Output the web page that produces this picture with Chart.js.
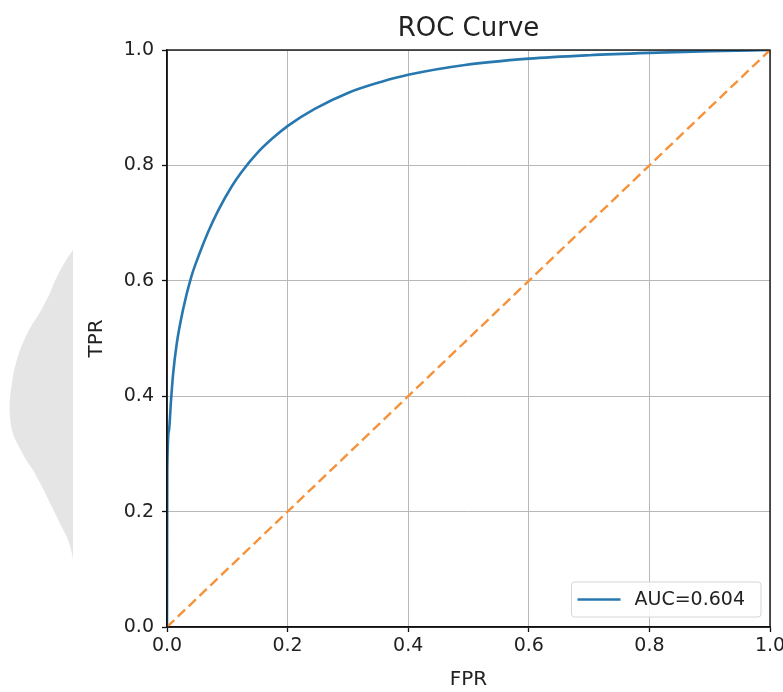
<!DOCTYPE html>
<html>
<head>
<meta charset="utf-8">
<script src="https://cdn.jsdelivr.net/npm/chart.js@4/dist/chart.umd.min.js"></script>
<style>
  html, body { margin: 0; padding: 0; background: #ffffff; }
  #wrap { position: relative; width: 783px; height: 692px; }
  #deco { position: absolute; left: 0; top: 0; }
  #c { position: absolute; left: 0; top: 0; }
</style>
</head>
<body>
<div id="wrap">
  <svg id="deco" width="783" height="692">
    <path d="M73,250 C62,265 55,280 50,293 C44,305 39,315 33,323 C27,333 23,342 20,350 C16,362 13,372 12,383 C10,395 9,406 10,417 C11,428 13,436 17,443 C22,453 27,462 33,470 C39,481 45,492 50,503 C56,515 61,526 67,537 C70,545 72,552 73,560 Z" fill="#e5e5e5"/>
  </svg>
  <canvas id="c" width="783" height="692"></canvas>
</div>
<script>
// ---- data ----
const chartTitle = "ROC Curve";
const xTitle = "FPR";
const yTitle = "TPR";
const rocLabel = "AUC=0.604";
const fpr = [0, 0.0005, 0.0033, 0.0066, 0.01, 0.016, 0.027, 0.04, 0.052, 0.068, 0.085, 0.107, 0.124, 0.151, 0.175, 0.201, 0.245, 0.301, 0.356, 0.4, 0.494, 0.6, 0.7, 0.8, 0.9, 1.0];
const tpr = [0, 0.272, 0.341, 0.392, 0.437, 0.49, 0.552, 0.606, 0.642, 0.684, 0.722, 0.763, 0.789, 0.823, 0.847, 0.869, 0.898, 0.926, 0.945, 0.957, 0.974, 0.985, 0.991, 0.995, 0.998, 1.0];
const diagX = [0, 1];
const diagY = [0, 1];
const tickValues = [0, 0.2, 0.4, 0.6, 0.8, 1.0];

const BLUE = '#2878b0';
const ORANGE = '#f5923a';
const FONT = "'DejaVu Sans', sans-serif";

const rocPoints = fpr.map((x, i) => ({ x: x, y: tpr[i] }));
const diagPoints = diagX.map((x, i) => ({ x: x, y: diagY[i] }));

const framePlugin = {
  id: 'mplFrame',
  afterDraw(chart) {
    const ctx = chart.ctx, a = chart.chartArea;
    ctx.save();
    ctx.strokeStyle = '#111';
    ctx.lineWidth = 1.4;
    ctx.strokeRect(a.left, a.top, a.right - a.left, a.bottom - a.top);
    ctx.font = "26px " + FONT;
    ctx.fillStyle = '#222';
    ctx.textAlign = 'center';
    ctx.textBaseline = 'middle';
    ctx.fillText(chartTitle, (a.left + a.right) / 2, 29);
    ctx.restore();
  }
};

const legendPlugin = {
  id: 'mplLegend',
  afterDatasetsDraw(chart) {
    const ctx = chart.ctx, a = chart.chartArea;
    const ds = chart.data.datasets[0];
    ctx.save();
    ctx.font = "19px " + FONT;
    const tw = ctx.measureText(ds.label).width;
    const h = 35;
    const w = 10 + 43 + 14 + tw + 12;
    const x = a.right - 9 - w;
    const y = a.bottom - 10 - h;
    const r = 3;
    ctx.beginPath();
    ctx.moveTo(x + r, y);
    ctx.lineTo(x + w - r, y);
    ctx.quadraticCurveTo(x + w, y, x + w, y + r);
    ctx.lineTo(x + w, y + h - r);
    ctx.quadraticCurveTo(x + w, y + h, x + w - r, y + h);
    ctx.lineTo(x + r, y + h);
    ctx.quadraticCurveTo(x, y + h, x, y + h - r);
    ctx.lineTo(x, y + r);
    ctx.quadraticCurveTo(x, y, x + r, y);
    ctx.closePath();
    ctx.fillStyle = 'rgba(255,255,255,0.85)';
    ctx.fill();
    ctx.strokeStyle = '#d6d6d6';
    ctx.lineWidth = 1;
    ctx.stroke();
    ctx.beginPath();
    ctx.moveTo(x + 6, y + h / 2);
    ctx.lineTo(x + 49, y + h / 2);
    ctx.strokeStyle = ds.borderColor;
    ctx.lineWidth = ds.borderWidth;
    ctx.stroke();
    ctx.fillStyle = '#222';
    ctx.textAlign = 'left';
    ctx.textBaseline = 'middle';
    ctx.fillText(ds.label, x + 63, y + h / 2 + 1);
    ctx.restore();
  }
};

const axisCommon = {
  type: 'linear',
  min: 0,
  max: 1,
  afterBuildTicks(scale) { scale.ticks = tickValues.map(v => ({ value: v })); },
  border: { display: true, color: '#111', width: 1.4 },
  grid: { color: '#b8b8b8', lineWidth: 1, tickColor: '#111', tickLength: 5, tickWidth: 1.3 },
};

new Chart(document.getElementById('c'), {
  type: 'scatter',
  data: {
    datasets: [
      {
        label: rocLabel,
        data: rocPoints,
        showLine: true,
        borderColor: BLUE,
        borderWidth: 2.6,
        pointRadius: 0,
        cubicInterpolationMode: 'monotone',
        order: 2
      },
      {
        label: 'diag',
        data: diagPoints,
        showLine: true,
        borderColor: ORANGE,
        borderWidth: 2.4,
        borderDash: [10, 5],
        pointRadius: 0,
        order: 1
      }
    ]
  },
  options: {
    responsive: false,
    maintainAspectRatio: false,
    animation: false,
    events: [],
    layout: { padding: { left: 80, right: 13, top: 50, bottom: 0 } },
    plugins: { legend: { display: false }, tooltip: { enabled: false }, title: { display: false } },
    scales: {
      x: Object.assign({}, axisCommon, {
        position: 'bottom',
        ticks: { font: { family: FONT, size: 19 }, color: '#222', padding: 3, maxRotation: 0,
                 callback: v => Number(v).toFixed(1) },
        title: { display: true, text: xTitle, font: { family: FONT, size: 20 }, color: '#222', padding: { top: 0, bottom: 0 } },
        afterFit(scale) { scale.height = 65; scale.paddingLeft = 0; scale.paddingRight = 0; }
      }),
      y: Object.assign({}, axisCommon, {
        position: 'left',
        ticks: { font: { family: FONT, size: 19 }, color: '#222', padding: 8,
                 callback: v => Number(v).toFixed(1) },
        title: { display: true, text: yTitle, font: { family: FONT, size: 20 }, color: '#222', padding: { top: 5, bottom: 0 } },
        afterFit(scale) { scale.width = 87; scale.paddingTop = 0; scale.paddingBottom = 0; }
      })
    }
  },
  plugins: [framePlugin, legendPlugin]
});
</script>
</body>
</html>
